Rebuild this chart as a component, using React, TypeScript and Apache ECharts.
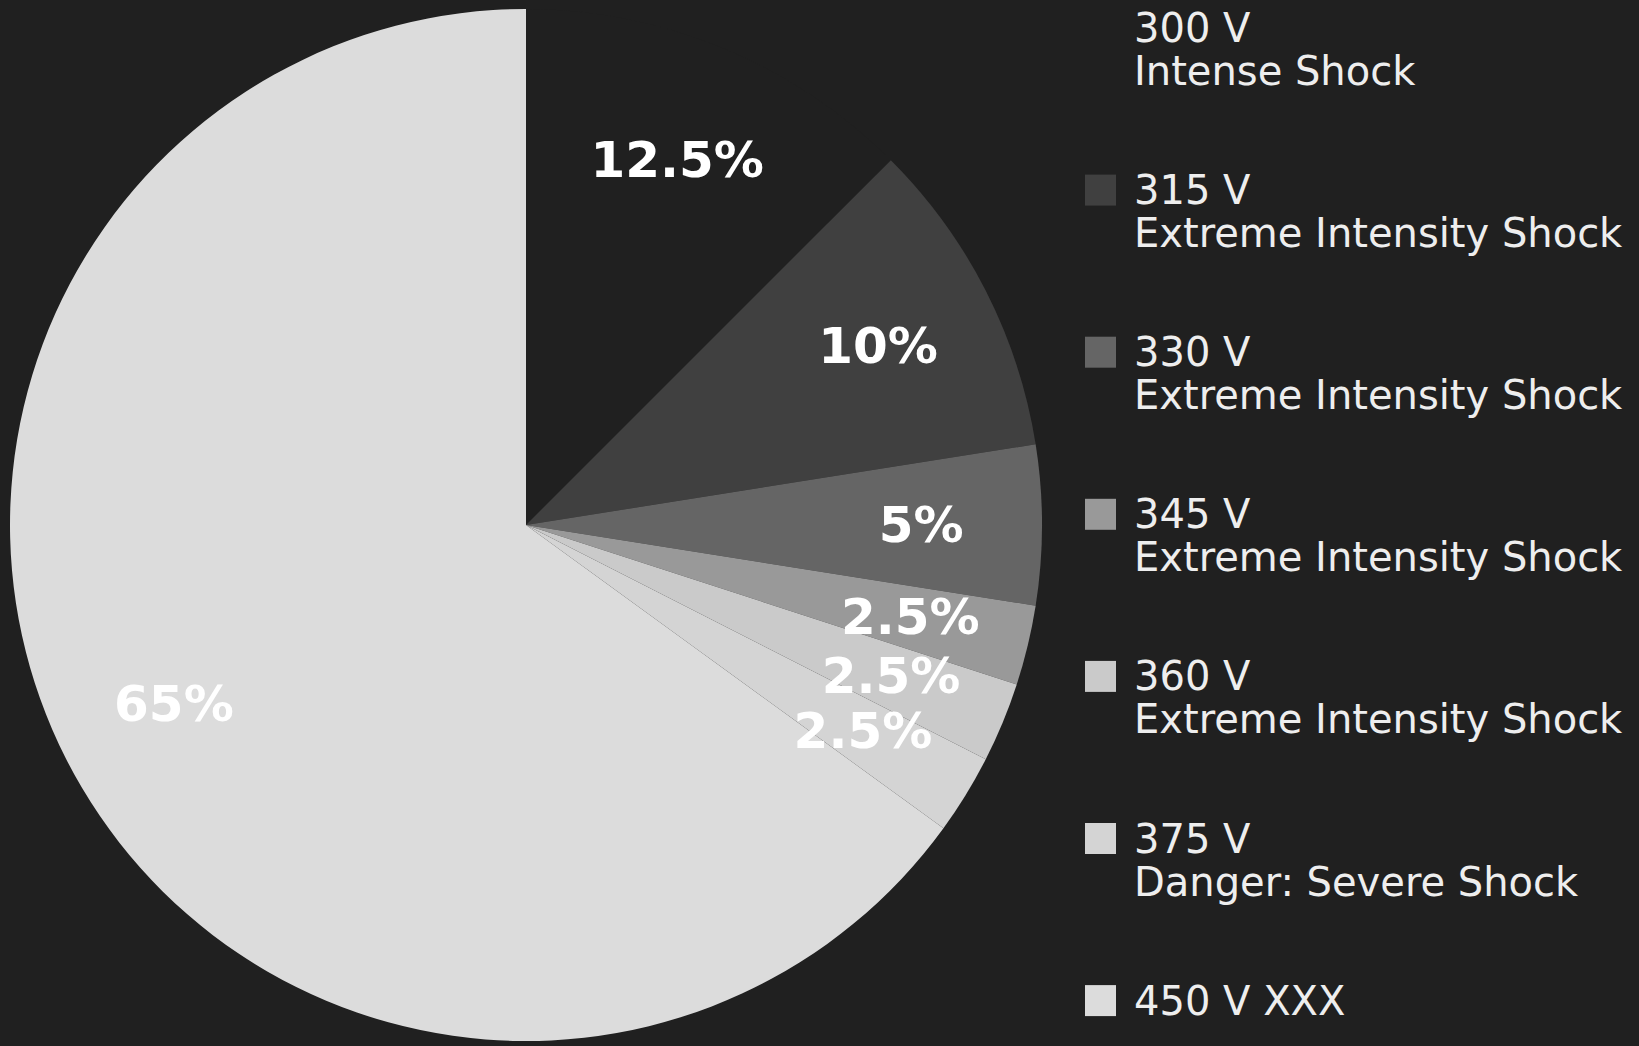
import React, { useEffect, useRef } from "react";
import * as echarts from "echarts";

const voltages = ["300 V", "315 V", "330 V", "345 V", "360 V", "375 V", "450 V XXX"];
const descriptions = [
  "Intense Shock",
  "Extreme Intensity Shock",
  "Extreme Intensity Shock",
  "Extreme Intensity Shock",
  "Extreme Intensity Shock",
  "Danger: Severe Shock",
  "",
];
const shares = [12.5, 10, 5, 2.5, 2.5, 2.5, 65];
const sliceColors = ["#202020", "#404040", "#656565", "#999999", "#cacaca", "#d4d4d4", "#dcdcdc"];

const BG = "#202020";
const FONT = "'DejaVu Sans', 'Noto Sans', sans-serif";

export default function App() {
  const ref = useRef<HTMLDivElement>(null);

  useEffect(() => {
    if (!ref.current) return;
    const chart = echarts.init(ref.current, undefined, { renderer: "svg" });

    const cx = 526;
    const cy = 525;
    const r = 516;

    const names = voltages.map((v, i) => (descriptions[i] ? v + "\n" + descriptions[i] : v));

    const legendTop = 28;
    const legendStep = 162.1;
    const markerX = 1085;
    const markerSize = 31;
    const textX = 1134;
    const lineH = 43;

    const legendEls: any[] = [];
    names.forEach((n, i) => {
      const yc = legendTop + i * legendStep;
      legendEls.push({
        type: "rect",
        shape: { x: markerX, y: yc - markerSize / 2, width: markerSize, height: markerSize },
        style: { fill: sliceColors[i] },
        silent: true,
      });
      legendEls.push({
        type: "text",
        x: textX,
        y: yc - lineH / 2,
        silent: true,
        style: {
          text: n,
          fill: "#eeeeee",
          font: `40px ${FONT}`,
          lineHeight: lineH,
          align: "left",
          verticalAlign: "top",
        },
      });
    });

    chart.setOption({
      animation: false,
      backgroundColor: BG,
      series: [
        {
          type: "pie",
          center: [cx, cy],
          radius: r,
          startAngle: 90,
          clockwise: true,
          silent: true,
          label: { show: false },
          labelLine: { show: false },
          emphasis: { disabled: true },
          data: names.map((n, i) => ({
            name: n,
            value: shares[i],
            itemStyle: { color: sliceColors[i] },
          })),
        },
        {
          type: "pie",
          center: [cx, cy],
          radius: [r * 0.52, r],
          startAngle: 90,
          clockwise: true,
          silent: true,
          itemStyle: { color: "rgba(0,0,0,0)" },
          emphasis: { disabled: true },
          labelLine: { show: false },
          label: {
            show: true,
            position: "inside",
            rotate: 0,
            color: "#ffffff",
            fontSize: 50,
            fontWeight: "bold",
            fontFamily: FONT,
            formatter: (p: any) => `${p.value}%`,
          },
          data: names.map((n, i) => ({ name: n, value: shares[i] })),
        },
      ],
      graphic: legendEls,
    });

    return () => chart.dispose();
  }, []);

  return (
    <div
      ref={ref}
      style={{ position: "fixed", left: 0, top: 0, width: "1639px", height: "1046px", background: BG }}
    />
  );
}
